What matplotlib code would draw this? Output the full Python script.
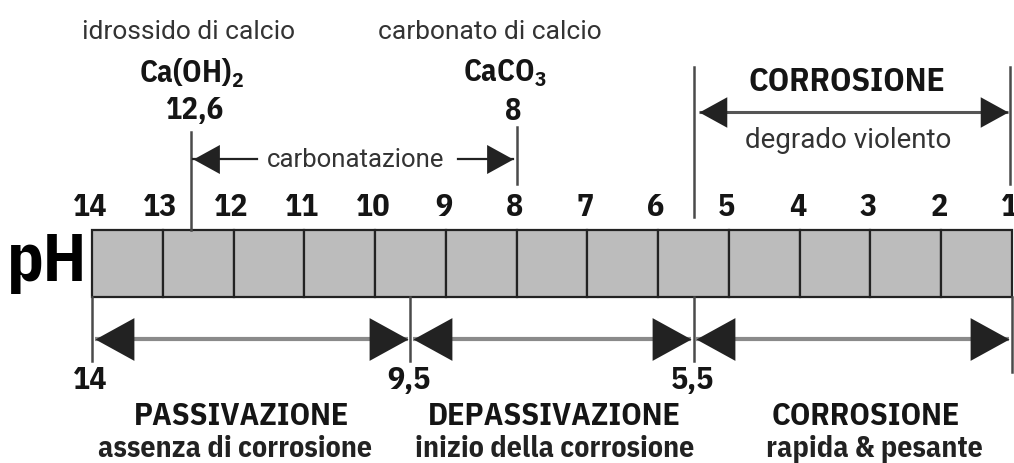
import matplotlib.pyplot as plt

# pH scale and reference points
ph_ticks = list(range(14, 0, -1))
ph_caoh2 = 12.6
ph_caco3 = 8
ph_zones = [14, 9.5, 5.5, 1]
zone_titles = ["PASSIVAZIONE", "DEPASSIVAZIONE", "CORROSIONE"]
zone_notes = ["assenza di corrosione", "inizio della corrosione", "rapida & pesante"]
zone_edge_labels = ["14", "9,5", "5,5"]

BOLD = ["IBM Plex Sans Condensed", "DejaVu Sans"]
REG = ["Roboto", "DejaVu Sans"]
DARK = "#151515"
GREY = "#333333"
LINE = "#4a4a4a"

plt.rcParams["mathtext.default"] = "regular"

fig = plt.figure(figsize=(10.14, 4.64), dpi=100)
ax = fig.add_axes([0, 0, 1, 1])
ax.set_xlim(15.30, 0.972)
ax.set_ylim(464, 0)
ax.axis("off")

# the bar
bar_top, bar_h = 231, 67
for p in ph_ticks[1:]:
    ax.add_patch(plt.Rectangle((p, bar_top), 1, bar_h, facecolor="#bcbcbc",
                               edgecolor="#222222", linewidth=1.6))
for p in ph_ticks:
    ax.text(p + 0.03, 208, str(p), ha="center", va="center", fontsize=23,
            fontweight="bold", family=BOLD, color=DARK)
ax.text(14.64, 263, "pH", ha="center", va="center", fontsize=48,
        fontweight="bold", family=BOLD, color="black")


def head(x, y, direction, size, color="#222222"):
    # triangular arrow head with its tip at (x, y)
    verts = [(0, 0), (-direction, 0.55), (-direction, -0.55), (0, 0)]
    ax.plot([x], [y], marker=verts, markersize=size, color=color,
            markeredgewidth=0, linestyle="none")


def double_arrow(x0, x1, y, size, shaft_color, shaft_w):
    ax.plot([x0, x1], [y, y], color=shaft_color, linewidth=shaft_w,
            solid_capstyle="butt")
    head(x0, y, -1, size)
    head(x1, y, 1, size)


# top: Ca(OH)2 and CaCO3
ax.text(ph_caoh2 + 0.04, 32, "idrossido di calcio", ha="center", va="center",
        fontsize=19, family=REG, color=GREY)
ax.text(ph_caoh2, 73, "Ca(OH)$_{2}$", ha="center", va="center", fontsize=22,
        fontweight="bold", family=BOLD, color=DARK)
ax.text(ph_caoh2 - 0.04, 111, "12,6", ha="center", va="center", fontsize=22,
        fontweight="bold", family=BOLD, color=DARK)
ax.plot([ph_caoh2, ph_caoh2], [133, bar_top], color=LINE, linewidth=1.8)

ax.text(ph_caco3 + 0.38, 32, "carbonato di calcio", ha="center", va="center",
        fontsize=19, family=REG, color=GREY)
ax.text(ph_caco3 + 0.16, 73, "CaCO$_{3}$", ha="center", va="center", fontsize=22,
        fontweight="bold", family=BOLD, color=DARK)
ax.text(ph_caco3 + 0.05, 111, "8", ha="center", va="center", fontsize=22,
        fontweight="bold", family=BOLD, color=DARK)
ax.plot([ph_caco3, ph_caco3], [128, 185], color=LINE, linewidth=1.8)

# carbonatazione arrow
y_c = 160
ax.plot([ph_caoh2 - 0.03, 11.67], [y_c, y_c], color="#222222", linewidth=1.6)
ax.plot([8.83, ph_caco3 + 0.05], [y_c, y_c], color="#222222", linewidth=1.6)
head(ph_caoh2 - 0.03, y_c, -1, 38)
head(ph_caco3 + 0.05, y_c, 1, 38)
ax.text(10.27, y_c, "carbonatazione", ha="center", va="center", fontsize=18.5,
        family=REG, color=GREY)

# top corrosion span
ph_top_l, ph_top_r = 5.5, 1.03
ax.plot([ph_top_l, ph_top_l], [68, 218], color=LINE, linewidth=1.8)
ax.plot([ph_top_r, ph_top_r], [68, 185], color=LINE, linewidth=1.8)
double_arrow(ph_top_l - 0.08, ph_top_r + 0.03, 113, 40, "#555555", 2.2)
ax.text(3.33, 82, "CORROSIONE", ha="center", va="center", fontsize=24,
        fontweight="bold", family=BOLD, color=DARK)
ax.text(3.32, 141, "degrado violento", ha="center", va="center", fontsize=20,
        family=REG, color=GREY)

# bottom zones
y_a = 340
for i, p in enumerate(ph_zones):
    bottom = 373 if i == len(ph_zones) - 1 else 362
    ax.plot([p, p], [bar_top + bar_h, bottom], color=LINE, linewidth=1.8)
for i in range(3):
    a, b = ph_zones[i], ph_zones[i + 1]
    double_arrow(a - 0.04, b + 0.04, y_a, 56, "#8a8a8a", 3.0)
    ax.text(a + 0.02, 381, zone_edge_labels[i], ha="center", va="center",
            fontsize=23, fontweight="bold", family=BOLD, color=DARK)
title_x = [11.88, 7.47, 3.06]
note_x = [11.98, 7.46, 2.94]
for i in range(3):
    ax.text(title_x[i], 417, zone_titles[i], ha="center", va="center",
            fontsize=23, fontweight="bold", family=BOLD, color=DARK)
    ax.text(note_x[i], 449, zone_notes[i], ha="center", va="center",
            fontsize=21.5, fontweight="bold", family=BOLD, color="#222222")

fig.savefig("out.png", dpi=100, facecolor="white")
